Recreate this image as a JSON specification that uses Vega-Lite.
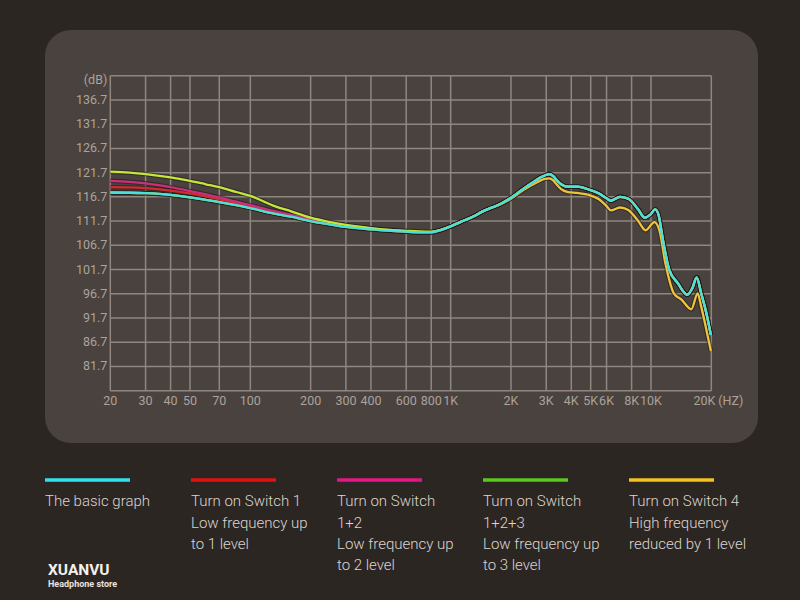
{
  "$schema": "https://vega.github.io/schema/vega-lite/v6.json",
  "background": "#2c2623",
  "padding": {"left": 43, "top": 30, "right": 27, "bottom": 0},
  "spacing": 20,
  "config": {"view": {"stroke": null}, "font": "Roboto"},
  "resolve": {"scale": {"color": "independent"}},
  "datasets": {
    "xgrid": [{"f":20,"lbl":"20"},{"f":30,"lbl":"30"},{"f":40,"lbl":"40"},{"f":50,"lbl":"50"},{"f":70,"lbl":"70"},{"f":100,"lbl":"100"},{"f":200,"lbl":"200"},{"f":300,"lbl":"300"},{"f":400,"lbl":"400"},{"f":600,"lbl":"600"},{"f":800,"lbl":"800"},{"f":1000,"lbl":"1K"},{"f":2000,"lbl":"2K"},{"f":3000,"lbl":"3K"},{"f":4000,"lbl":"4K"},{"f":5000,"lbl":"5K"},{"f":6000,"lbl":"6K"},{"f":8000,"lbl":"8K"},{"f":10000,"lbl":"10K"},{"f":20000,"lbl":"20K"}],
    "ygrid": [{"v":76.7},{"v":81.7},{"v":86.7},{"v":91.7},{"v":96.7},{"v":101.7},{"v":106.7},{"v":111.7},{"v":116.7},{"v":121.7},{"v":126.7},{"v":131.7},{"v":136.7},{"v":141.7}],
    "curves": [
      {"s":"s4","f":20,"db":117.6},{"s":"s4","f":25,"db":117.55},{"s":"s4","f":30,"db":117.45},{"s":"s4","f":40,"db":117.1},{"s":"s4","f":50,"db":116.6},{"s":"s4","f":60,"db":116.1},{"s":"s4","f":70,"db":115.6},{"s":"s4","f":85,"db":115.0},{"s":"s4","f":100,"db":114.4},{"s":"s4","f":130,"db":113.3},{"s":"s4","f":160,"db":112.6},{"s":"s4","f":200,"db":111.7},{"s":"s4","f":250,"db":111.0},{"s":"s4","f":300,"db":110.5},{"s":"s4","f":400,"db":110.0},{"s":"s4","f":500,"db":109.7},{"s":"s4","f":600,"db":109.5},{"s":"s4","f":700,"db":109.4},{"s":"s4","f":800,"db":109.4},{"s":"s4","f":900,"db":109.9},{"s":"s4","f":1000,"db":110.6},{"s":"s4","f":1130,"db":111.6},{"s":"s4","f":1230,"db":112.2},{"s":"s4","f":1320,"db":112.8},{"s":"s4","f":1430,"db":113.6},{"s":"s4","f":1800,"db":115.3},
      {"s":"s4","f":2000,"db":116.3},{"s":"s4","f":2350,"db":118.3},{"s":"s4","f":2640,"db":119.5},{"s":"s4","f":2750,"db":119.9},{"s":"s4","f":2950,"db":120.4},{"s":"s4","f":3100,"db":120.5},{"s":"s4","f":3250,"db":120.1},{"s":"s4","f":3360,"db":119.4},{"s":"s4","f":3560,"db":118.3},{"s":"s4","f":3850,"db":117.7},{"s":"s4","f":4300,"db":117.5},{"s":"s4","f":4900,"db":117.1},{"s":"s4","f":5500,"db":116.2},{"s":"s4","f":6000,"db":114.8},{"s":"s4","f":6300,"db":113.9},{"s":"s4","f":7000,"db":114.5},{"s":"s4","f":7700,"db":114.0},{"s":"s4","f":8600,"db":111.8},{"s":"s4","f":9400,"db":109.8},{"s":"s4","f":10400,"db":111.5},{"s":"s4","f":11000,"db":109.9},{"s":"s4","f":11800,"db":103.0},{"s":"s4","f":13000,"db":96.8},{"s":"s4","f":14200,"db":95.5},{"s":"s4","f":15900,"db":93.5},{"s":"s4","f":17100,"db":96.8},{"s":"s4","f":17800,"db":94.1},{"s":"s4","f":18600,"db":90.6},{"s":"s4","f":19900,"db":84.9},

      {"s":"s1","f":20,"db":118.7},{"s":"s1","f":25,"db":118.65},{"s":"s1","f":30,"db":118.5},{"s":"s1","f":40,"db":118.0},{"s":"s1","f":50,"db":117.4},{"s":"s1","f":60,"db":116.8},{"s":"s1","f":70,"db":116.2},{"s":"s1","f":85,"db":115.4},{"s":"s1","f":100,"db":114.7},{"s":"s1","f":130,"db":113.6},{"s":"s1","f":160,"db":112.8},{"s":"s1","f":200,"db":111.9},{"s":"s1","f":250,"db":111.15},{"s":"s1","f":300,"db":110.6},{"s":"s1","f":400,"db":110.05},{"s":"s1","f":500,"db":109.7},{"s":"s1","f":600,"db":109.5},{"s":"s1","f":700,"db":109.4},{"s":"s1","f":800,"db":109.4},{"s":"s1","f":900,"db":109.9},{"s":"s1","f":1000,"db":110.6},{"s":"s1","f":1130,"db":111.6},{"s":"s1","f":1230,"db":112.2},{"s":"s1","f":1320,"db":112.8},{"s":"s1","f":1430,"db":113.6},{"s":"s1","f":1800,"db":115.4},{"s":"s1","f":2000,"db":116.5},{"s":"s1","f":2350,"db":118.6},{"s":"s1","f":2640,"db":120.0},{"s":"s1","f":2750,"db":120.5},{"s":"s1","f":2950,"db":121.1},{"s":"s1","f":3100,"db":121.4},{"s":"s1","f":3250,"db":121.0},{"s":"s1","f":3360,"db":120.3},{"s":"s1","f":3560,"db":119.3},{"s":"s1","f":3850,"db":118.8},{"s":"s1","f":4300,"db":118.8},{"s":"s1","f":4900,"db":118.2},{"s":"s1","f":5500,"db":117.4},{"s":"s1","f":6000,"db":116.4},{"s":"s1","f":6300,"db":115.9},{"s":"s1","f":7000,"db":116.7},{"s":"s1","f":7700,"db":116.3},{"s":"s1","f":8600,"db":114.2},{"s":"s1","f":9300,"db":112.4},{"s":"s1","f":9900,"db":113.0},{"s":"s1","f":10500,"db":114.1},{"s":"s1","f":10900,"db":113.0},{"s":"s1","f":11500,"db":107.5},{"s":"s1","f":12300,"db":101.8},{"s":"s1","f":13600,"db":98.9},{"s":"s1","f":15200,"db":96.5},{"s":"s1","f":16100,"db":97.9},{"s":"s1","f":16900,"db":100.1},{"s":"s1","f":17800,"db":96.8},{"s":"s1","f":18900,"db":92.7},{"s":"s1","f":19900,"db":88.2},

      {"s":"s12","f":20,"db":120.0},{"s":"s12","f":25,"db":119.8},{"s":"s12","f":30,"db":119.5},{"s":"s12","f":40,"db":118.7},{"s":"s12","f":50,"db":117.9},{"s":"s12","f":60,"db":117.2},{"s":"s12","f":70,"db":116.6},{"s":"s12","f":85,"db":115.7},{"s":"s12","f":100,"db":115.0},{"s":"s12","f":130,"db":113.8},{"s":"s12","f":160,"db":113.0},{"s":"s12","f":200,"db":112.1},{"s":"s12","f":250,"db":111.3},{"s":"s12","f":300,"db":110.8},{"s":"s12","f":400,"db":110.2},{"s":"s12","f":500,"db":109.8},{"s":"s12","f":600,"db":109.5},{"s":"s12","f":700,"db":109.4},{"s":"s12","f":800,"db":109.4},{"s":"s12","f":900,"db":109.9},{"s":"s12","f":1000,"db":110.6},{"s":"s12","f":1130,"db":111.6},{"s":"s12","f":1230,"db":112.2},{"s":"s12","f":1320,"db":112.8},{"s":"s12","f":1430,"db":113.6},{"s":"s12","f":1800,"db":115.4},{"s":"s12","f":2000,"db":116.5},{"s":"s12","f":2350,"db":118.6},{"s":"s12","f":2640,"db":120.0},{"s":"s12","f":2750,"db":120.5},{"s":"s12","f":2950,"db":121.1},{"s":"s12","f":3100,"db":121.4},{"s":"s12","f":3250,"db":121.0},{"s":"s12","f":3360,"db":120.3},{"s":"s12","f":3560,"db":119.3},{"s":"s12","f":3850,"db":118.8},{"s":"s12","f":4300,"db":118.8},{"s":"s12","f":4900,"db":118.2},{"s":"s12","f":5500,"db":117.4},{"s":"s12","f":6000,"db":116.4},{"s":"s12","f":6300,"db":115.9},{"s":"s12","f":7000,"db":116.7},{"s":"s12","f":7700,"db":116.3},{"s":"s12","f":8600,"db":114.2},{"s":"s12","f":9300,"db":112.4},{"s":"s12","f":9900,"db":113.0},{"s":"s12","f":10500,"db":114.1},{"s":"s12","f":10900,"db":113.0},{"s":"s12","f":11500,"db":107.5},{"s":"s12","f":12300,"db":101.8},{"s":"s12","f":13600,"db":98.9},{"s":"s12","f":15200,"db":96.5},{"s":"s12","f":16100,"db":97.9},{"s":"s12","f":16900,"db":100.1},{"s":"s12","f":17800,"db":96.8},{"s":"s12","f":18900,"db":92.7},{"s":"s12","f":19900,"db":88.2},

      {"s":"s123","f":20,"db":121.9},{"s":"s123","f":25,"db":121.7},{"s":"s123","f":30,"db":121.4},{"s":"s123","f":40,"db":120.7},{"s":"s123","f":50,"db":120.0},{"s":"s123","f":60,"db":119.3},{"s":"s123","f":70,"db":118.7},{"s":"s123","f":85,"db":117.7},{"s":"s123","f":100,"db":116.9},{"s":"s123","f":130,"db":114.9},{"s":"s123","f":160,"db":113.7},{"s":"s123","f":200,"db":112.4},{"s":"s123","f":250,"db":111.5},{"s":"s123","f":300,"db":110.9},{"s":"s123","f":400,"db":110.25},{"s":"s123","f":500,"db":109.9},{"s":"s123","f":600,"db":109.7},{"s":"s123","f":700,"db":109.55},{"s":"s123","f":800,"db":109.5},{"s":"s123","f":900,"db":109.95},{"s":"s123","f":1000,"db":110.6},{"s":"s123","f":1130,"db":111.6},{"s":"s123","f":1230,"db":112.2},{"s":"s123","f":1320,"db":112.8},{"s":"s123","f":1430,"db":113.6},{"s":"s123","f":1800,"db":115.4},{"s":"s123","f":2000,"db":116.5},{"s":"s123","f":2350,"db":118.6},{"s":"s123","f":2640,"db":120.0},{"s":"s123","f":2750,"db":120.5},{"s":"s123","f":2950,"db":121.1},{"s":"s123","f":3100,"db":121.4},{"s":"s123","f":3250,"db":121.0},{"s":"s123","f":3360,"db":120.3},{"s":"s123","f":3560,"db":119.3},{"s":"s123","f":3850,"db":118.8},{"s":"s123","f":4300,"db":118.8},{"s":"s123","f":4900,"db":118.2},{"s":"s123","f":5500,"db":117.4},{"s":"s123","f":6000,"db":116.4},{"s":"s123","f":6300,"db":115.9},{"s":"s123","f":7000,"db":116.7},{"s":"s123","f":7700,"db":116.3},{"s":"s123","f":8600,"db":114.2},{"s":"s123","f":9300,"db":112.4},{"s":"s123","f":9900,"db":113.0},{"s":"s123","f":10500,"db":114.1},{"s":"s123","f":10900,"db":113.0},{"s":"s123","f":11500,"db":107.5},{"s":"s123","f":12300,"db":101.8},{"s":"s123","f":13600,"db":98.9},{"s":"s123","f":15200,"db":96.5},{"s":"s123","f":16100,"db":97.9},{"s":"s123","f":16900,"db":100.1},{"s":"s123","f":17800,"db":96.8},{"s":"s123","f":18900,"db":92.7},{"s":"s123","f":19900,"db":88.2},

      {"s":"basic","f":20,"db":117.6},{"s":"basic","f":25,"db":117.55},{"s":"basic","f":30,"db":117.45},{"s":"basic","f":40,"db":117.1},{"s":"basic","f":50,"db":116.6},{"s":"basic","f":60,"db":116.1},{"s":"basic","f":70,"db":115.6},{"s":"basic","f":85,"db":115.0},{"s":"basic","f":100,"db":114.4},{"s":"basic","f":130,"db":113.3},{"s":"basic","f":160,"db":112.6},{"s":"basic","f":200,"db":111.7},{"s":"basic","f":250,"db":111.0},{"s":"basic","f":300,"db":110.5},{"s":"basic","f":400,"db":110.0},{"s":"basic","f":500,"db":109.7},{"s":"basic","f":600,"db":109.5},{"s":"basic","f":700,"db":109.4},{"s":"basic","f":800,"db":109.4},{"s":"basic","f":900,"db":109.9},{"s":"basic","f":1000,"db":110.6},{"s":"basic","f":1130,"db":111.6},{"s":"basic","f":1230,"db":112.2},{"s":"basic","f":1320,"db":112.8},{"s":"basic","f":1430,"db":113.6},{"s":"basic","f":1800,"db":115.4},{"s":"basic","f":2000,"db":116.5},{"s":"basic","f":2350,"db":118.6},{"s":"basic","f":2640,"db":120.0},{"s":"basic","f":2750,"db":120.5},{"s":"basic","f":2950,"db":121.1},{"s":"basic","f":3100,"db":121.4},{"s":"basic","f":3250,"db":121.0},{"s":"basic","f":3360,"db":120.3},{"s":"basic","f":3560,"db":119.3},{"s":"basic","f":3850,"db":118.8},{"s":"basic","f":4300,"db":118.8},{"s":"basic","f":4900,"db":118.2},{"s":"basic","f":5500,"db":117.4},{"s":"basic","f":6000,"db":116.4},{"s":"basic","f":6300,"db":115.9},{"s":"basic","f":7000,"db":116.7},{"s":"basic","f":7700,"db":116.3},{"s":"basic","f":8600,"db":114.2},{"s":"basic","f":9300,"db":112.4},{"s":"basic","f":9900,"db":113.0},{"s":"basic","f":10500,"db":114.1},{"s":"basic","f":10900,"db":113.0},{"s":"basic","f":11500,"db":107.5},{"s":"basic","f":12300,"db":101.8},{"s":"basic","f":13600,"db":98.9},{"s":"basic","f":15200,"db":96.5},{"s":"basic","f":16100,"db":97.9},{"s":"basic","f":16900,"db":100.1},{"s":"basic","f":17800,"db":96.8},{"s":"basic","f":18900,"db":92.7},{"s":"basic","f":19900,"db":88.2}
    ],
    "legendbars": [{"s":"basic","c":0},{"s":"s1","c":1},{"s":"s12","c":2},{"s":"s123","c":3},{"s":"s4","c":4}],
    "legendtext": [
      {"c":0,"ln":1,"t":"The basic graph"},
      {"c":1,"ln":1,"t":"Turn on Switch 1"},{"c":1,"ln":2,"t":"Low frequency up"},{"c":1,"ln":3,"t":"to 1 level"},
      {"c":2,"ln":1,"t":"Turn on Switch"},{"c":2,"ln":2,"t":"1+2"},{"c":2,"ln":3,"t":"Low frequency up"},{"c":2,"ln":4,"t":"to 2 level"},
      {"c":3,"ln":1,"t":"Turn on Switch"},{"c":3,"ln":2,"t":"1+2+3"},{"c":3,"ln":3,"t":"Low frequency up"},{"c":3,"ln":4,"t":"to 3 level"},
      {"c":4,"ln":1,"t":"Turn on Switch 4"},{"c":4,"ln":2,"t":"High frequency"},{"c":4,"ln":3,"t":"reduced by 1 level"}
    ]
  },
  "vconcat": [
    {
      "width": 713,
      "height": 413,
      "view": {"fill": "#4a423e", "cornerRadius": 26, "stroke": null},
      "layer": [
        {
          "data": {"name": "xgrid"},
          "mark": {"type": "rule", "color": "#8e8681", "strokeWidth": 1.5},
          "encoding": {
            "x": {"field": "f", "type": "quantitative", "scale": {"type": "log", "domain": [9.443, 34204], "nice": false}, "axis": null},
            "y": {"datum": 76.7, "type": "quantitative", "scale": {"domain": [65.91, 151.13], "nice": false, "zero": false}, "axis": null},
            "y2": {"datum": 141.7}
          }
        },
        {
          "data": {"name": "ygrid"},
          "mark": {"type": "rule", "color": "#8e8681", "strokeWidth": 1.5},
          "encoding": {
            "y": {"field": "v", "type": "quantitative"},
            "x": {"datum": 20, "type": "quantitative"},
            "x2": {"datum": 20000}
          }
        },
        {
          "data": {"name": "ygrid"},
          "transform": [{"filter": "datum.v > 80 && datum.v < 140"}],
          "mark": {"type": "text", "align": "right", "baseline": "middle", "dx": -3, "font": "Roboto", "fontSize": 12.5, "color": "#aaa29c"},
          "encoding": {
            "y": {"field": "v", "type": "quantitative"},
            "x": {"datum": 20, "type": "quantitative"},
            "text": {"field": "v", "type": "quantitative", "format": ".1f"}
          }
        },
        {
          "data": {"values": [{}]},
          "mark": {"type": "text", "text": "(dB)", "align": "right", "baseline": "middle", "dx": -3, "dy": 4, "font": "Roboto", "fontSize": 12.5, "color": "#aaa29c"},
          "encoding": {
            "y": {"datum": 141.7, "type": "quantitative"},
            "x": {"datum": 20, "type": "quantitative"}
          }
        },
        {
          "data": {"name": "xgrid"},
          "transform": [{"filter": "datum.f < 20000"}],
          "mark": {"type": "text", "align": "center", "baseline": "middle", "dy": 10, "font": "Roboto", "fontSize": 12.5, "color": "#aaa29c"},
          "encoding": {
            "x": {"field": "f", "type": "quantitative"},
            "y": {"datum": 76.7, "type": "quantitative"},
            "text": {"field": "lbl"}
          }
        },
        {
          "data": {"name": "xgrid"},
          "transform": [{"filter": "datum.f == 20000"}],
          "mark": {"type": "text", "align": "right", "baseline": "middle", "dy": 10, "dx": 4, "font": "Roboto", "fontSize": 12.5, "color": "#aaa29c"},
          "encoding": {
            "x": {"field": "f", "type": "quantitative"},
            "y": {"datum": 76.7, "type": "quantitative"},
            "text": {"field": "lbl"}
          }
        },
        {
          "data": {"values": [{}]},
          "mark": {"type": "text", "text": "(HZ)", "align": "left", "baseline": "middle", "dy": 10, "dx": 7, "font": "Roboto", "fontSize": 12.5, "color": "#aaa29c"},
          "encoding": {
            "x": {"datum": 20000, "type": "quantitative"},
            "y": {"datum": 76.7, "type": "quantitative"}
          }
        },
        {
          "data": {"name": "curves"},
          "mark": {"type": "line", "strokeWidth": 4.5, "color": "#1f1a18", "opacity": 0.55, "interpolate": "monotone"},
          "encoding": {
            "x": {"field": "f", "type": "quantitative"},
            "y": {"field": "db", "type": "quantitative"},
            "detail": {"field": "s", "type": "nominal"}
          }
        },
        {
          "data": {"name": "curves"},
          "mark": {"type": "line", "strokeWidth": 2.3, "interpolate": "monotone"},
          "encoding": {
            "x": {"field": "f", "type": "quantitative"},
            "y": {"field": "db", "type": "quantitative"},
            "color": {
              "field": "s", "type": "nominal",
              "scale": {"domain": ["basic","s1","s12","s123","s4"], "range": ["#45e3dc","#d42a2e","#c8307c","#c2e63a","#eec43a"]},
              "legend": null
            }
          }
        }
      ]
    },
    {
      "width": 730,
      "height": 137,
      "view": {"stroke": null, "fill": null},
      "layer": [
        {
          "data": {"name": "legendbars"},
          "mark": {"type": "rule", "strokeWidth": 3.5, "x2Offset": 85},
          "encoding": {
            "x": {"field": "c", "type": "quantitative", "scale": {"domain": [0, 5], "nice": false, "zero": false}, "axis": null},
            "x2": {"field": "c"},
            "y": {"datum": 0, "type": "quantitative", "scale": {"domain": [-0.8, 5.647], "reverse": true, "nice": false, "zero": false}, "axis": null},
            "color": {
              "field": "s", "type": "nominal",
              "scale": {"domain": ["basic","s1","s12","s123","s4"], "range": ["#2ee4ec","#e21212","#e4168a","#5ac81e","#f2c21e"]},
              "legend": null
            }
          }
        },
        {
          "data": {"name": "legendtext"},
          "mark": {"type": "text", "align": "left", "baseline": "middle", "font": "Roboto", "fontSize": 15, "fontWeight": 300, "color": "#dcd5ce"},
          "encoding": {
            "x": {"field": "c", "type": "quantitative"},
            "y": {"field": "ln", "type": "quantitative"},
            "text": {"field": "t"}
          }
        },
        {
          "data": {"values": [{}]},
          "mark": {"type": "text", "text": "XUANVU", "align": "left", "baseline": "middle", "font": "Roboto", "fontSize": 15.5, "fontWeight": "bold", "color": "#f4f0ec", "dx": 3},
          "encoding": {
            "x": {"datum": 0, "type": "quantitative"},
            "y": {"datum": 4.24, "type": "quantitative"}
          }
        },
        {
          "data": {"values": [{}]},
          "mark": {"type": "text", "text": "Headphone store", "align": "left", "baseline": "middle", "font": "Roboto", "fontSize": 9, "fontWeight": "bold", "color": "#e8e2dc", "dx": 3},
          "encoding": {
            "x": {"datum": 0, "type": "quantitative"},
            "y": {"datum": 4.88, "type": "quantitative"}
          }
        }
      ]
    }
  ]
}
